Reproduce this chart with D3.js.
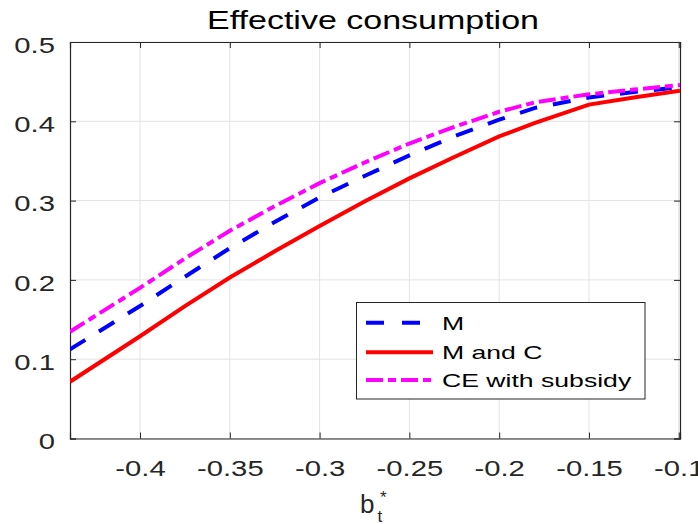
<!DOCTYPE html>
<html lang="en">
<head>
  <meta charset="UTF-8">
  <title>Effective consumption</title>
  <script src="https://cdn.jsdelivr.net/npm/d3@7"></script>
  <style>
    body { margin: 0; background: #fff; }
    text { font-family: "Liberation Sans", Helvetica, Arial, sans-serif; }
  </style>
</head>
<body>
<script>
  const width = 698
  const height = 524

  // data
  const bValues = [-0.439, -0.4, -0.375, -0.35, -0.325, -0.3, -0.275, -0.25, -0.225, -0.2, -0.18, -0.15, -0.125, -0.0993]
  const mValues = [0.1125, 0.167, 0.204, 0.240, 0.273, 0.304, 0.331, 0.357, 0.381, 0.402, 0.417, 0.430, 0.437, 0.443]
  const mcValues = [0.0716, 0.129, 0.167, 0.203, 0.236, 0.268, 0.299, 0.328, 0.355, 0.381, 0.398, 0.421, 0.430, 0.4386]
  const ceValues = [0.1347, 0.190, 0.227, 0.262, 0.293, 0.322, 0.348, 0.372, 0.393, 0.412, 0.424, 0.434, 0.440, 0.4458]
  const xTicks = [-0.4, -0.35, -0.3, -0.25, -0.2, -0.15, -0.1]
  const yTicks = [0, 0.1, 0.2, 0.3, 0.4, 0.5]
  const seriesNames = ['M', 'M and C', 'CE with subsidy']

  const margin = { top: 42, right: 18, bottom: 85.5, left: 70 }
  const x0 = margin.left, x1 = width - margin.right
  const y0 = height - margin.bottom, y1 = margin.top

  // the text in the picture is drawn wide, so stretch it sideways
  const tickStretch = 1.3
  const titleStretch = 1.36
  const legendStretch = 1.4

  const svg = d3.select('body').append('svg')
    .attr('width', width)
    .attr('height', height)

  const x = d3.scaleLinear().domain([bValues[0], bValues[bValues.length - 1]]).range([x0, x1])
  const y = d3.scaleLinear().domain([0, 0.5]).range([y0, y1])

  // grid
  svg.append('g')
    .selectAll('line')
    .data(xTicks)
    .enter().append('line')
    .attr('x1', d => x(d)).attr('x2', d => x(d))
    .attr('y1', y0).attr('y2', y1)
    .attr('stroke', '#e3e3e3').attr('stroke-width', 1)
  svg.append('g')
    .selectAll('line')
    .data(yTicks)
    .enter().append('line')
    .attr('x1', x0).attr('x2', x1)
    .attr('y1', d => y(d)).attr('y2', d => y(d))
    .attr('stroke', '#e3e3e3').attr('stroke-width', 1)

  // axes, ticks inward, box on
  const fmt = d => String(d)
  const axisColor = '#262626'
  const xAxis = svg.append('g')
    .attr('transform', `translate(0,${y0})`)
    .call(d3.axisBottom(x).tickValues(xTicks).tickFormat(fmt).tickSize(-6).tickPadding(22))
  const yAxis = svg.append('g')
    .attr('transform', `translate(${x0},0)`)
    .call(d3.axisLeft(y).tickValues(yTicks).tickFormat(fmt).tickSize(-6).tickPadding(15 / tickStretch))
  svg.append('g')
    .attr('transform', `translate(0,${y1})`)
    .call(d3.axisTop(x).tickValues(xTicks).tickFormat('').tickSize(-6))
  svg.append('g')
    .attr('transform', `translate(${x1},0)`)
    .call(d3.axisRight(y).tickValues(yTicks).tickFormat('').tickSize(-6))

  svg.selectAll('.domain').attr('stroke', axisColor).attr('stroke-width', 1.2)
  svg.selectAll('.tick line').attr('stroke', axisColor)
  svg.selectAll('.tick text')
    .attr('font-size', 22.5).attr('fill', axisColor)
    .attr('font-family', '"Liberation Sans", Helvetica, Arial, sans-serif')
    .attr('transform', `scale(${tickStretch},1)`)
  yAxis.selectAll('text').attr('dy', '0.45em')

  // lines
  svg.append('clipPath').attr('id', 'clip')
    .append('rect').attr('x', x0).attr('y', y1).attr('width', x1 - x0).attr('height', y0 - y1)

  const line = d3.line()
    .x((d, i) => x(bValues[i]))
    .y(d => y(d))

  const styles = [
    { values: mValues, color: '#0000ff', dash: '18,16' },
    { values: mcValues, color: '#ff0000', dash: null },
    { values: ceValues, color: '#ff00ff', dash: '17,5,8,5' }
  ]

  const plot = svg.append('g').attr('clip-path', 'url(#clip)')
  styles.forEach(s => {
    plot.append('path')
      .datum(s.values)
      .attr('d', line)
      .attr('fill', 'none')
      .attr('stroke', s.color)
      .attr('stroke-width', 4)
      .attr('stroke-dasharray', s.dash)
  })

  // legend
  const legend = svg.append('g')
  legend.append('rect')
    .attr('x', 356.5).attr('y', 302.5)
    .attr('width', 288.5).attr('height', 96.5)
    .attr('fill', '#fff').attr('stroke', '#262626').attr('stroke-width', 1)
  const legendRows = [322.7, 352.2, 380]
  styles.forEach((s, i) => {
    legend.append('line')
      .attr('x1', 366).attr('x2', 433)
      .attr('y1', legendRows[i]).attr('y2', legendRows[i])
      .attr('stroke', s.color).attr('stroke-width', 4)
      .attr('stroke-dasharray', i === 0 ? '18,18' : s.dash)
    legend.append('text')
      .attr('transform', `translate(442,${legendRows[i] + 6.8}) scale(${legendStretch},1)`)
      .attr('font-size', 19).attr('fill', '#000')
      .text(seriesNames[i])
  })

  // title and x label
  svg.append('text')
    .attr('transform', `translate(${(x0 + x1) / 2 - 2},29) scale(${titleStretch},1)`)
    .attr('text-anchor', 'middle')
    .attr('font-size', 25).attr('fill', '#000')
    .text('Effective consumption')

  svg.append('text')
    .attr('x', 360).attr('y', 512.7)
    .attr('font-size', 26).attr('fill', axisColor)
    .text('b')
  svg.append('text')
    .attr('x', 377.5).attr('y', 522)
    .attr('font-size', 17).attr('fill', axisColor)
    .text('t')
  svg.append('text')
    .attr('x', 380).attr('y', 503)
    .attr('font-size', 17).attr('fill', axisColor)
    .text('*')
</script>
</body>
</html>
